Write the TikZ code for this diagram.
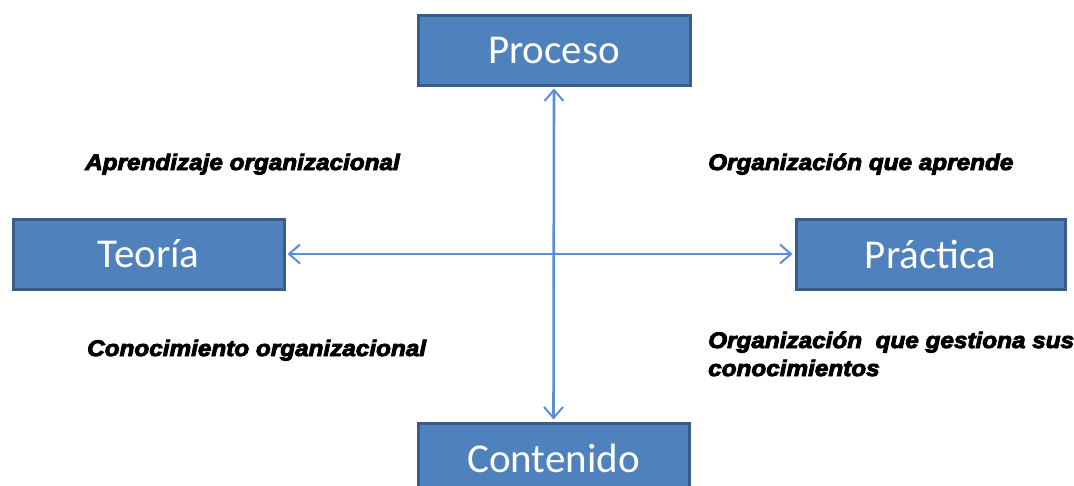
\documentclass[tikz,border=0pt]{standalone}
\usepackage{fontspec}
\setmainfont{Carlito}
\newfontfamily\labfont[BoldItalicFeatures={FakeStretch=1.08,FakeBold=4}]{Liberation Sans}
\usetikzlibrary{arrows.meta}
\definecolor{boxfill}{HTML}{4F81BD}
\definecolor{boxline}{HTML}{385D8A}
\definecolor{arrowblue}{HTML}{5B8ED4}
\begin{document}
\begin{tikzpicture}[x=1pt,y=-1pt,
  blockbox/.style={draw=boxline, line width=3pt, fill=boxfill, text=white,
    font=\fontsize{41}{41}\selectfont, inner sep=0pt, minimum height=70pt},
  lab/.style={anchor=base west, inner sep=0pt, font=\labfont\fontsize{22.5}{28}\selectfont\bfseries\itshape, align=left},
  link/.style={draw=arrowblue, line width=2.6pt, {Straight Barb[length=11pt,width=19pt,line width=2pt]}-{Straight Barb[length=11pt,width=19pt,line width=2pt]}, shorten <=2pt, shorten >=2pt}]
\useasboundingbox (0,0) rectangle (1074,485);
\begin{scope}
\clip (0,0) rectangle (1074,485);
\node[blockbox, minimum width=272pt] (proceso) at (554,50) {Proceso};
\node[blockbox, minimum width=271pt, minimum height=70pt] (teoria) at (148.5,254) {Teoría};
\node[blockbox, minimum width=269pt, minimum height=70pt] (practica) at (930.5,254) {Práctica};
\node[blockbox, minimum width=271pt, text depth=0pt] (contenido) at (553.5,458) {Contenido};
\end{scope}
\draw[link] (proceso.south) -- (contenido.north);
\draw[link] (teoria.east) -- (practica.west);
\node[lab] (l1) at (85,170) {Aprendizaje organizacional};
\node[lab] (l2) at (708,170) {Organización que aprende};
\node[lab] (l3) at (87,356) {Conocimiento organizacional};
\node[lab] (l4) at (708,376) {Organización~ que gestiona sus\\conocimientos};
\end{tikzpicture}
\end{document}
